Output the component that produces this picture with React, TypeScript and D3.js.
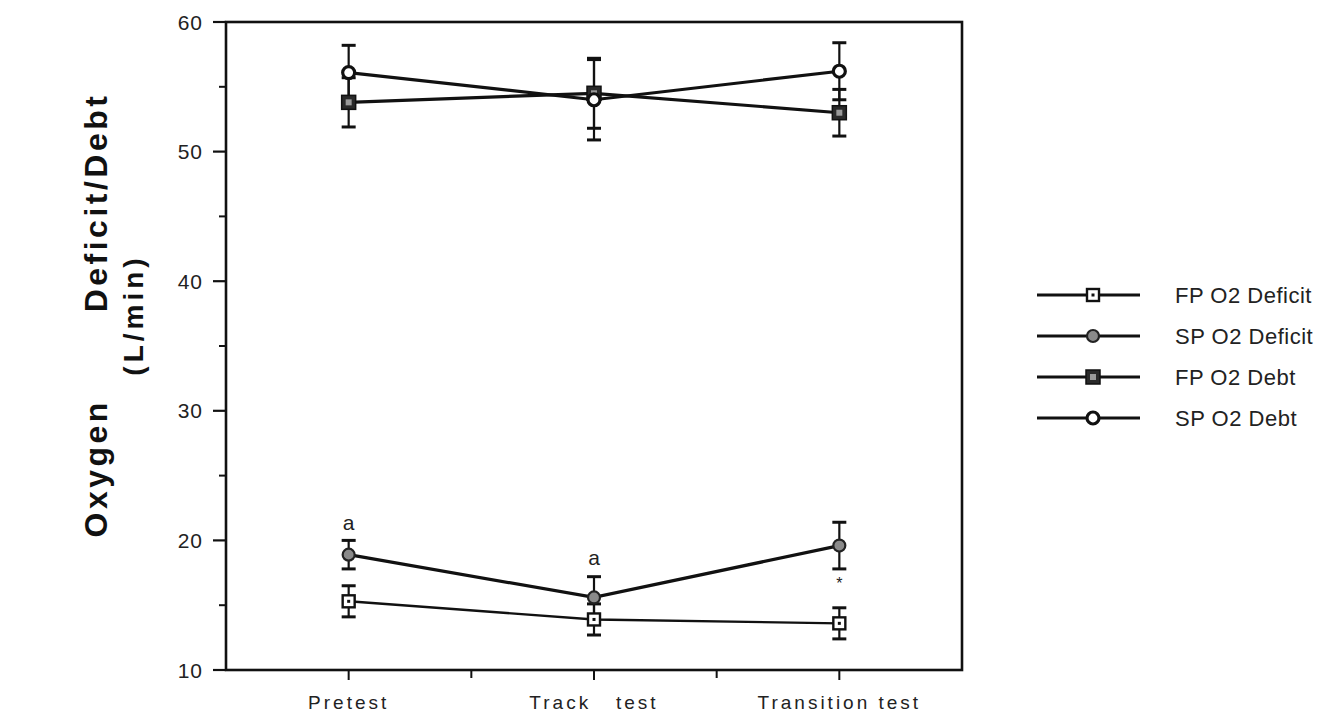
import React from "react";
import * as d3 from "d3";

const categories = ["Pretest", "Track   test", "Transition test"];
const seriesNames = ["FP O2 Deficit", "SP O2 Deficit", "FP O2 Debt", "SP O2 Debt"];
const fpDeficit = [15.3, 13.9, 13.6];
const fpDeficitErr = [1.2, 1.2, 1.2];
const spDeficit = [18.9, 15.6, 19.6];
const spDeficitErr = [1.1, 1.6, 1.8];
const fpDebt = [53.8, 54.5, 53.0];
const fpDebtErr = [1.9, 2.7, 1.8];
const spDebt = [56.1, 54.0, 56.2];
const spDebtErr = [2.1, 3.1, 2.2];
const yTicks = [10, 20, 30, 40, 50, 60];
const yMinorTicks = [15, 25, 35, 45, 55];
const annotations = [
  { cat: 0, value: 18.9, dy: -32, text: "a" },
  { cat: 1, value: 15.6, dy: -40, text: "a" },
  { cat: 2, value: 19.6, dy: 38, text: "*" },
];

const W = 1324;
const H = 715;
const left = 226, right = 962, top = 22, bottom = 670;
const FONT = "'Liberation Sans', Arial, Helvetica, sans-serif";

const x = d3.scaleLinear().domain([-0.5, 2.5]).range([left, right]);
const y = d3.scaleLinear().domain([10, 60]).range([bottom, top]);

type Kind = "openSquareDot" | "grayCircle" | "darkSquare" | "openCircle";
const kinds: Kind[] = ["openSquareDot", "grayCircle", "darkSquare", "openCircle"];
const values = [fpDeficit, spDeficit, fpDebt, spDebt];
const errs = [fpDeficitErr, spDeficitErr, fpDebtErr, spDebtErr];
const lineWidths = [2.4, 3.2, 3.2, 3.2];

function Marker({ kind, cx, cy }: { kind: Kind; cx: number; cy: number }) {
  if (kind === "openSquareDot") {
    return (
      <g>
        <rect x={cx - 6} y={cy - 6} width={12} height={12} fill="#fff" stroke="#111" strokeWidth={2.4} />
        <rect x={cx - 1.5} y={cy - 1.5} width={3} height={3} fill="#111" />
      </g>
    );
  }
  if (kind === "grayCircle") {
    return <circle cx={cx} cy={cy} r={6} fill="#8a8a8a" stroke="#222" strokeWidth={2.2} />;
  }
  if (kind === "darkSquare") {
    return (
      <g>
        <rect x={cx - 7} y={cy - 7} width={14} height={14} fill="#2a2a2a" stroke="#111" strokeWidth={1.5} />
        <rect x={cx - 3} y={cy - 3} width={6} height={6} fill="#9a9a9a" />
      </g>
    );
  }
  return <circle cx={cx} cy={cy} r={6} fill="#fff" stroke="#111" strokeWidth={3.2} />;
}

export default function App() {
  const line = d3
    .line<number>()
    .x((_, i) => x(i))
    .y((d) => y(d));

  return (
    <div style={{ position: "absolute", left: 0, top: 0, width: W, height: H, background: "#fff" }}>
      <svg width={W} height={H} style={{ display: "block", fontFamily: FONT }}>
        <rect width={W} height={H} fill="#fff" />

        {/* error bars */}
        {values.map((vals, si) =>
          vals.map((v, i) => (
            <g key={`e${si}-${i}`} stroke="#111">
              <line x1={x(i)} x2={x(i)} y1={y(v + errs[si][i])} y2={y(v - errs[si][i])} strokeWidth={2.2} />
              <line x1={x(i) - 7} x2={x(i) + 7} y1={y(v + errs[si][i])} y2={y(v + errs[si][i])} strokeWidth={3} />
              <line x1={x(i) - 7} x2={x(i) + 7} y1={y(v - errs[si][i])} y2={y(v - errs[si][i])} strokeWidth={3} />
            </g>
          ))
        )}

        {/* lines */}
        {values.map((vals, si) => (
          <path key={`l${si}`} d={line(vals) || ""} fill="none" stroke="#111" strokeWidth={lineWidths[si]} />
        ))}

        {/* markers */}
        {values.map((vals, si) =>
          vals.map((v, i) => <Marker key={`m${si}-${i}`} kind={kinds[si]} cx={x(i)} cy={y(v)} />)
        )}

        {/* annotations */}
        {annotations.map((a, i) => (
          <text
            key={`a${i}`}
            x={x(a.cat)}
            y={y(a.value) + a.dy}
            textAnchor="middle"
            dominantBaseline="central"
            fontSize={a.text === "*" ? 16 : 21}
            fill="#222"
          >
            {a.text}
          </text>
        ))}

        {/* frame */}
        <rect x={left} y={top} width={right - left} height={bottom - top} fill="none" stroke="#111" strokeWidth={2.6} />

        {/* y ticks */}
        {yTicks.map((t) => (
          <g key={`yt${t}`}>
            <line x1={left - 13} x2={left} y1={y(t)} y2={y(t)} stroke="#111" strokeWidth={2.2} />
            <text x={203} y={y(t)} textAnchor="end" dominantBaseline="central" fontSize={21} letterSpacing={1} fill="#222">
              {t}
            </text>
          </g>
        ))}
        {yMinorTicks.map((t) => (
          <line key={`ym${t}`} x1={left - 7} x2={left} y1={y(t)} y2={y(t)} stroke="#111" strokeWidth={2} />
        ))}

        {/* x ticks */}
        {categories.map((c, i) => (
          <g key={`xt${i}`}>
            <line x1={x(i)} x2={x(i)} y1={bottom} y2={bottom + 10} stroke="#111" strokeWidth={2} />
            <text
              x={x(i)}
              y={709}
              textAnchor="middle"
              fontSize={19}
              letterSpacing={3}
              fill="#222"
              style={{ whiteSpace: "pre" }}
            >
              {c}
            </text>
          </g>
        ))}
        {[0.5, 1.5].map((t) => (
          <line key={`xm${t}`} x1={x(t)} x2={x(t)} y1={bottom} y2={bottom + 8} stroke="#111" strokeWidth={2} />
        ))}

        {/* y axis title */}
        <text
          transform={`translate(96, 315) rotate(-90)`}
          textAnchor="middle"
          dominantBaseline="central"
          fontSize={32}
          fontWeight="bold"
          letterSpacing={3.5}
          fill="#111"
          style={{ whiteSpace: "pre" }}
        >
          {"Oxygen       Deficit/Debt"}
        </text>
        <text
          transform={`translate(133, 315) rotate(-90)`}
          textAnchor="middle"
          dominantBaseline="central"
          fontSize={28}
          fontWeight="bold"
          letterSpacing={4}
          fill="#111"
        >
          (L/min)
        </text>

        {/* legend */}
        {seriesNames.map((name, i) => {
          const ly = 295 + i * 41;
          return (
            <g key={`lg${i}`}>
              <line x1={1037} x2={1140} y1={ly} y2={ly} stroke="#111" strokeWidth={3} />
              <Marker kind={kinds[i]} cx={1093} cy={ly} />
              <text x={1175} y={ly} dominantBaseline="central" fontSize={22} letterSpacing={0.5} fill="#222">
                {name}
              </text>
            </g>
          );
        })}
      </svg>
    </div>
  );
}
